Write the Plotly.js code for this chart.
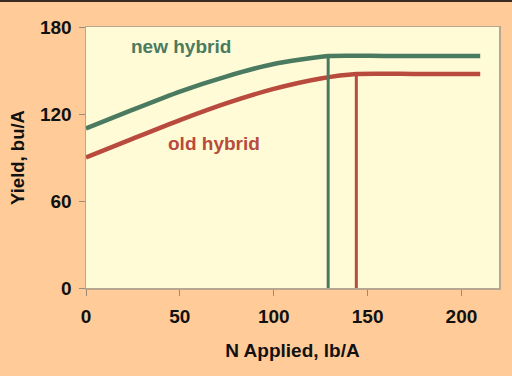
<!DOCTYPE html>
<html>
<head>
<meta charset="utf-8">
<script src="https://cdn.plot.ly/plotly-3.0.1.min.js"></script>
<style>
html,body{margin:0;padding:0;background:#FFCC99;}
#chart{width:512px;height:376px;}
#topband{position:absolute;left:0;top:0;width:512px;height:2px;background:#3a2a20;}
</style>
</head>
<body>
<div id="chart"></div>
<div id="topband"></div>
<script>
// Data
const newX = [0, 25, 50, 75, 100, 129, 160, 210];
const newY = [110, 123, 135.5, 146, 154.5, 160, 160, 160];
const oldX = [0, 25, 50, 75, 100, 125, 144, 175, 210];
const oldY = [90, 103, 115.8, 127.5, 137.3, 144.5, 147.6, 147.6, 147.6];
const newOptN = 129, newOptY = 160;
const oldOptN = 144, oldOptY = 147.6;
const xTicks = [0, 50, 100, 150, 200];
const yTicks = [0, 60, 120, 180];
const labels = ['new hybrid', 'old hybrid'];

const green = '#4A7A60';
const red = '#B94A3E';

const traces = [
  {x: newX, y: newY, mode: 'lines', line: {color: green, width: 4.5, shape: 'spline', smoothing: 0.6}},
  {x: oldX, y: oldY, mode: 'lines', line: {color: red, width: 4.5, shape: 'spline', smoothing: 0.6}},
  {x: [newOptN, newOptN], y: [0, newOptY], mode: 'lines', line: {color: green, width: 3}},
  {x: [oldOptN, oldOptN], y: [0, oldOptY], mode: 'lines', line: {color: red, width: 3}}
];

const fontFam = 'Liberation Sans, Arial, sans-serif';
const tickFont = {family: fontFam, size: 19, color: '#111', weight: 'bold'};
const layout = {
  width: 512, height: 376,
  paper_bgcolor: '#FFCC99',
  plot_bgcolor: '#FFFBD6',
  showlegend: false,
  margin: {l: 86, r: 13, t: 27, b: 88},
  font: {family: fontFam, color: '#111'},
  xaxis: {
    range: [0, 220], tickvals: xTicks, ticktext: xTicks.map(String),
    showgrid: false, zeroline: false, showline: true, mirror: true,
    linecolor: '#B8A78E', linewidth: 1.5,
    ticks: 'outside', ticklen: 6, tickcolor: '#9a8a78',
    ticklabelstandoff: 5,
    tickfont: tickFont,
    title: {text: '<b>N Applied, lb/A</b>', font: {family: fontFam, size: 19, color: '#111'}, standoff: 17}
  },
  yaxis: {
    range: [0, 180], tickvals: yTicks, ticktext: yTicks.map(String),
    showgrid: false, zeroline: false, showline: true, mirror: true,
    linecolor: '#B8A78E', linewidth: 1.5,
    ticks: 'outside', ticklen: 6, tickcolor: '#9a8a78',
    ticklabelstandoff: 3,
    tickfont: tickFont,
    title: {text: '<b>Yield, bu/A</b>', font: {family: fontFam, size: 18.5, color: '#111'}, standoff: 10}
  },
  annotations: [
    {x: 50.7, y: 166.5, xref: 'x', yref: 'y', text: '<b>' + labels[0] + '</b>', showarrow: false,
     font: {family: fontFam, size: 19, color: green}},
    {x: 68, y: 100, xref: 'x', yref: 'y', text: '<b>' + labels[1] + '</b>', showarrow: false,
     font: {family: fontFam, size: 19, color: red}}
  ]
};

Plotly.newPlot('chart', traces, layout, {displayModeBar: false, staticPlot: true});
</script>
</body>
</html>
